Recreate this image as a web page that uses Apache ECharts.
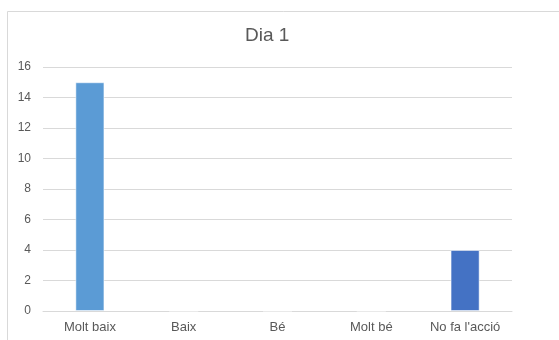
<!DOCTYPE html>
<html>
<head>
<meta charset="utf-8">
<script src="https://cdn.jsdelivr.net/npm/echarts@6/dist/echarts.min.js"></script>
<style>
  html, body { margin: 0; padding: 0; background: #fff; }
  #chart { width: 559px; height: 340px; }
</style>
</head>
<body>
<div id="chart"></div>
<script>
// Survey responses for day 1
const categories = ['Molt baix', 'Baix', 'Bé', 'Molt bé', "No fa l'acció"];
const values = [15, 0, 0, 0, 4];
const barColors = ['#5B9BD5', '#5B9BD5', '#5B9BD5', '#5B9BD5', '#4472C4'];
const yTicks = { min: 0, max: 16, interval: 2 };
const titleText = 'Dia 1';

const chart = echarts.init(document.getElementById('chart'));
chart.setOption({
  animation: false,
  backgroundColor: '#fff',
  textStyle: { fontFamily: 'Liberation Sans, Arial, sans-serif' },
  graphic: [
    {
      type: 'rect',
      shape: { x: 7.5, y: 11.5, width: 700, height: 500 },
      style: { fill: 'none', stroke: '#d9d9d9', lineWidth: 1 },
      silent: true
    },
    {
      type: 'text',
      left: 245,
      top: 26,
      style: {
        text: titleText,
        fill: '#595959',
        font: '19px "Liberation Sans", Arial, sans-serif'
      }
    }
  ],
  grid: { left: 43, right: 47, top: 67, bottom: 29, containLabel: false },
  xAxis: {
    type: 'category',
    data: categories,
    axisLine: { lineStyle: { color: '#d9d9d9' } },
    axisTick: { show: false },
    axisLabel: { color: '#595959', fontSize: 13, margin: 10 }
  },
  yAxis: {
    type: 'value',
    min: yTicks.min,
    max: yTicks.max,
    interval: yTicks.interval,
    axisLine: { show: false },
    axisTick: { show: false },
    axisLabel: { color: '#595959', fontSize: 12, margin: 12 },
    splitLine: { lineStyle: { color: '#d9d9d9' } }
  },
  series: [{
    type: 'bar',
    barWidth: '31%',
    data: values.map((v, i) => ({ value: v, itemStyle: { color: barColors[i] } })),
    itemStyle: { borderColor: 'rgba(255,255,255,0.5)', borderWidth: 1 }
  }]
});
</script>
</body>
</html>
